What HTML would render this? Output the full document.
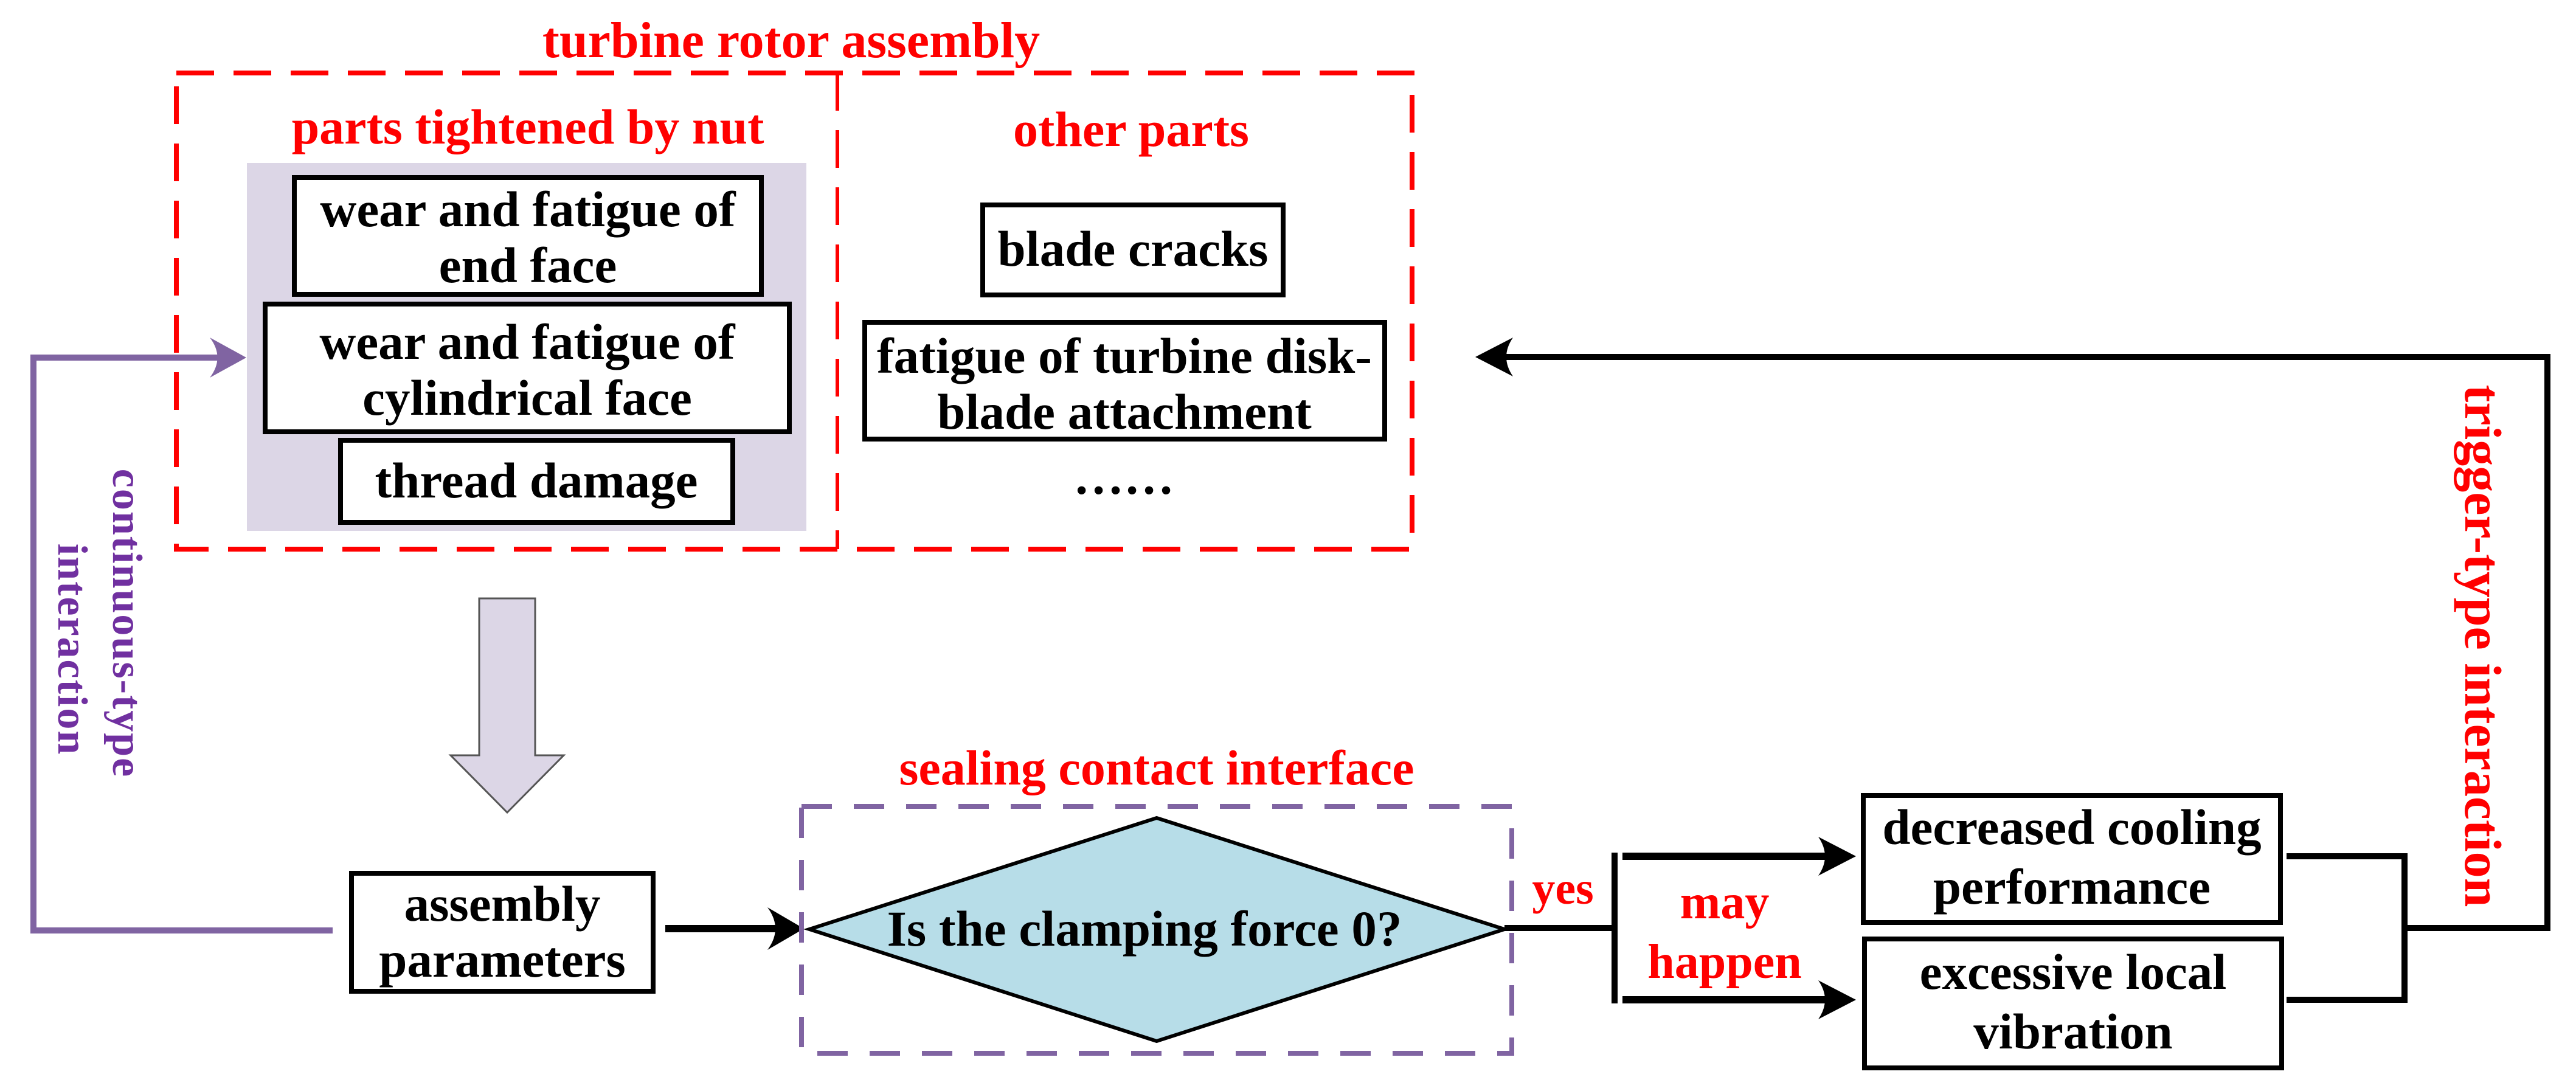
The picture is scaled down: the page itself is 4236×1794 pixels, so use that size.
<!DOCTYPE html>
<html><head><meta charset="utf-8"><style>
html,body{margin:0;padding:0;background:#fff;}
svg{display:block;}
text{font-family:"Liberation Serif","Times New Roman",serif;font-weight:bold;}
</style></head><body>
<svg width="4236" height="1794" viewBox="0 0 4236 1794" xmlns="http://www.w3.org/2000/svg" font-family="Liberation Serif, serif" font-weight="bold">
<!-- red dashed outer box -->
<rect x="290" y="120" width="2032" height="783" fill="none" stroke="#ff0000" stroke-width="8" stroke-dasharray="62,32"/>
<line x1="1377" y1="120" x2="1377" y2="903" stroke="#ff0000" stroke-width="6" stroke-dasharray="62,32"/>
<text x="1301" y="94" font-size="84" fill="#ff0000" text-anchor="middle">turbine rotor assembly</text>
<text x="868" y="236" font-size="82" fill="#ff0000" text-anchor="middle">parts tightened by nut</text>
<text x="1860" y="240" font-size="82" fill="#ff0000" text-anchor="middle">other parts</text>
<!-- gray bg -->
<rect x="406" y="268" width="920" height="605" fill="#dcd6e6"/>
<rect x="484" y="292" width="768" height="192" fill="#fff" stroke="#000" stroke-width="8"/>
<text x="868" y="372" font-size="83" text-anchor="middle">wear and fatigue of</text>
<text x="868" y="464" font-size="83" text-anchor="middle">end face</text>
<rect x="436" y="500" width="862" height="210" fill="#fff" stroke="#000" stroke-width="8"/>
<text x="867" y="590" font-size="83" text-anchor="middle">wear and fatigue of</text>
<text x="867" y="682" font-size="83" text-anchor="middle">cylindrical face</text>
<rect x="560" y="724" width="645" height="135" fill="#fff" stroke="#000" stroke-width="8"/>
<text x="882" y="818" font-size="83" text-anchor="middle">thread damage</text>
<rect x="1616" y="337" width="494" height="148" fill="#fff" stroke="#000" stroke-width="8"/>
<text x="1863" y="437" font-size="83" text-anchor="middle">blade cracks</text>
<rect x="1422" y="530" width="855" height="192" fill="#fff" stroke="#000" stroke-width="8"/>
<text x="1849" y="613" font-size="83" text-anchor="middle">fatigue of turbine disk-</text>
<text x="1849" y="705" font-size="83" text-anchor="middle">blade attachment</text>
<text x="1848" y="812" font-size="83" text-anchor="middle">……</text>
<!-- purple feedback -->
<polyline points="547,1530 55,1530 55,588 380,588" fill="none" stroke="#8064a2" stroke-width="10"/>
<path d="M405,588 L345,555 Q370,588 345,621 Z" fill="#8064a2"/>
<text transform="translate(186,1025) rotate(90)" font-size="70" fill="#7030a0" text-anchor="middle" letter-spacing="2">continuous-type</text>
<text transform="translate(96,1068) rotate(90)" font-size="70" fill="#7030a0" text-anchor="middle" letter-spacing="2">interaction</text>
<!-- block arrow -->
<path d="M788,984 L880,984 L880,1242 L927,1242 L834,1336 L741,1242 L788,1242 Z" fill="#dcd6e6" stroke="#555" stroke-width="3"/>
<!-- assembly parameters -->
<rect x="578" y="1436" width="496" height="194" fill="#fff" stroke="#000" stroke-width="8"/>
<text x="826" y="1514" font-size="83" text-anchor="middle">assembly</text>
<text x="826" y="1606" font-size="83" text-anchor="middle">parameters</text>
<line x1="1094" y1="1527" x2="1290" y2="1527" stroke="#000" stroke-width="12"/>
<path d="M1322,1527 L1262,1492 Q1288,1527 1262,1562 Z" fill="#000"/>
<!-- purple dashed box -->
<rect x="1318" y="1326" width="1168" height="406" fill="none" stroke="#8064a2" stroke-width="8" stroke-dasharray="50,36"/>
<text x="1902" y="1290" font-size="82" fill="#ff0000" text-anchor="middle">sealing contact interface</text>
<polygon points="1331,1528 1902,1345 2474,1528 1902,1712" fill="#b7dde8" stroke="#000" stroke-width="6"/>
<text x="1882" y="1555" font-size="83" text-anchor="middle">Is the clamping force 0?</text>
<!-- right side -->
<line x1="2474" y1="1526" x2="2655" y2="1526" stroke="#000" stroke-width="10"/>
<line x1="2655" y1="1402" x2="2655" y2="1650" stroke="#000" stroke-width="10"/>
<line x1="2668" y1="1408" x2="3020" y2="1408" stroke="#000" stroke-width="12"/>
<path d="M3052,1408 L2990,1376 Q3012,1408 2990,1440 Z" fill="#000"/>
<line x1="2668" y1="1644" x2="3020" y2="1644" stroke="#000" stroke-width="12"/>
<path d="M3052,1644 L2990,1612 Q3012,1644 2990,1676 Z" fill="#000"/>
<text x="2570" y="1486" font-size="76" fill="#ff0000" text-anchor="middle">yes</text>
<text x="2836" y="1510" font-size="80" fill="#ff0000" text-anchor="middle">may</text>
<text x="2836" y="1608" font-size="80" fill="#ff0000" text-anchor="middle">happen</text>
<rect x="3064" y="1308" width="686" height="209" fill="#fff" stroke="#000" stroke-width="8"/>
<text x="3407" y="1388" font-size="83" text-anchor="middle">decreased cooling</text>
<text x="3407" y="1486" font-size="83" text-anchor="middle">performance</text>
<rect x="3066" y="1544" width="686" height="212" fill="#fff" stroke="#000" stroke-width="8"/>
<text x="3409" y="1626" font-size="83" text-anchor="middle">excessive local</text>
<text x="3409" y="1724" font-size="83" text-anchor="middle">vibration</text>
<polyline points="3760,1408 3954,1408 3954,1644 3760,1644" fill="none" stroke="#000" stroke-width="10"/>
<polyline points="3954,1526 4189,1526 4189,587 2460,587" fill="none" stroke="#000" stroke-width="10"/>
<path d="M2426,587 L2488,555 Q2466,587 2488,619 Z" fill="#000"/>
<text transform="translate(4054,1062) rotate(90)" font-size="86" fill="#ff0000" text-anchor="middle">trigger-type interaction</text>
</svg>
</body></html>
